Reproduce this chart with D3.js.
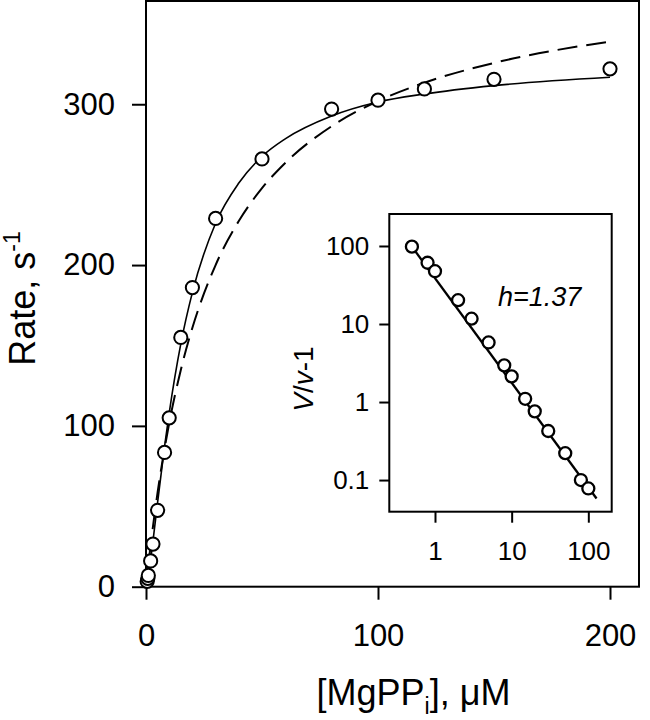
<!DOCTYPE html>
<html>
<head>
<meta charset="utf-8">
<script src="https://cdn.jsdelivr.net/npm/d3@7"></script>
<style>
  body { margin: 0; background: #fff; }
  svg { font-family: "Liberation Sans", Arial, sans-serif; }
  .frame { fill: none; stroke: #000; stroke-width: 2; }
  .axis path { display: none; }
  .axis line { stroke: #000; stroke-width: 2; }
  .axis text { fill: #000; }
  .fit { fill: none; stroke: #000; stroke-width: 1.6; }
  .mm { fill: none; stroke: #000; stroke-width: 2; stroke-dasharray: 20,9; }
  .dot { fill: #fff; stroke: #000; stroke-width: 2; }
</style>
</head>
<body>
<svg id="chart" width="650" height="720"></svg>
<script>
// main panel: rate vs [MgPPi]
var concs = [0.5, 0.8, 1, 2, 3, 5, 8, 10, 15, 20, 30, 50, 80, 100, 120, 150, 200];
var rates = [3.3, 5.2, 7, 16, 26.5, 47.5, 83.5, 105, 155, 186, 229, 266, 297, 302.5, 309.5, 315.5, 322];

// solid curve (Hill fit)
var hillX = [0, 1, 2, 3, 5, 8, 10, 15, 20, 30, 40, 50, 60, 80, 100, 120, 150, 200];
var hillY = [0, 6.7, 16.9, 28.3, 52.4, 87.2, 108, 151, 183, 226, 251, 267.6, 278.5, 292.7, 301.4, 306.4, 311.6, 316.8];

// dashed curve
var mmX = [0, 2, 5, 10, 15, 20, 30, 40, 50, 60, 80, 100, 120, 150, 200];
var mmY = [0, 25.8, 58.6, 101.7, 134.8, 161, 200, 227.4, 247.8, 263.5, 286.3, 302, 313.4, 325.7, 339];

// inset: V/v-1 vs [MgPPi], log-log
var insetX = [0.5, 0.8, 1, 2, 3, 5, 8, 10, 15, 20, 30, 50, 80, 100];
var insetY = [98, 61, 47.5, 20.2, 11.7, 5.8, 2.95, 2.13, 1.1, 0.76, 0.425, 0.221, 0.1, 0.078];
var insetLineX = [0.5, 128];
var insetLineY = [98, 0.058];

var xTicks = [0, 100, 200];
var yTicks = [0, 100, 200, 300];
var insetXTicks = [1, 10, 100];
var insetXLabels = ["1", "10", "100"];
var insetYTicks = [0.1, 1, 10, 100];
var insetYLabels = ["0.1", "1", "10", "100"];

var svg = d3.select("#chart");

var x = d3.scaleLinear().domain([0, 212.5]).range([146, 639]),
    y = d3.scaleLinear().domain([0, 364.2]).range([586.7, 1]);

svg.append("rect")
    .attr("class", "frame")
    .attr("x", x.range()[0])
    .attr("y", y.range()[1])
    .attr("width", x.range()[1] - x.range()[0])
    .attr("height", y.range()[0] - y.range()[1]);

svg.append("g")
    .attr("class", "axis")
    .attr("transform", "translate(0," + y(0) + ")")
    .call(d3.axisBottom(x).tickValues(xTicks).tickSize(13).tickPadding(24).tickSizeOuter(0))
    .selectAll("text").attr("font-size", 31);

svg.append("g")
    .attr("class", "axis")
    .attr("transform", "translate(" + x(0) + ",0)")
    .call(d3.axisLeft(y).tickValues(yTicks).tickSize(14).tickPadding(17).tickSizeOuter(0))
    .selectAll("text").attr("font-size", 31);

var line = d3.line()
    .x(function (d) { return x(d[0]); })
    .y(function (d) { return y(d[1]); })
    .curve(d3.curveMonotoneX);

svg.append("path")
    .attr("class", "mm")
    .attr("d", line(d3.zip(mmX, mmY)));

svg.append("path")
    .attr("class", "fit")
    .attr("d", line(d3.zip(hillX, hillY)));

svg.append("g").selectAll("circle")
    .data(d3.zip(concs, rates))
    .enter().append("circle")
    .attr("class", "dot")
    .attr("cx", function (d) { return x(d[0]); })
    .attr("cy", function (d) { return y(d[1]); })
    .attr("r", 6.6);

// axis titles
var yt = svg.append("text")
    .attr("transform", "translate(35,298.5) rotate(-90)")
    .attr("text-anchor", "middle")
    .attr("font-size", 36);
yt.append("tspan").text("Rate, s");
yt.append("tspan").attr("font-size", 23).attr("dy", -15).text("-1");

var xt = svg.append("text")
    .attr("x", 413.5)
    .attr("y", 705)
    .attr("text-anchor", "middle")
    .attr("font-size", 36);
xt.append("tspan").text("[MgPP");
xt.append("tspan").attr("font-size", 23).attr("dy", 9).text("i");
xt.append("tspan").attr("dy", -9).text("], \u03bcM");

// inset
var ix = d3.scaleLog().domain([0.2535, 201.8]).range([389.3, 611.7]),
    iy = d3.scaleLog().domain([0.0393, 257]).range([511.7, 214]);

var inset = svg.append("g");

inset.append("rect")
    .attr("class", "frame")
    .style("fill", "#fff")
    .attr("x", ix.range()[0])
    .attr("y", iy.range()[1])
    .attr("width", ix.range()[1] - ix.range()[0])
    .attr("height", iy.range()[0] - iy.range()[1]);

inset.append("g")
    .attr("class", "axis")
    .attr("transform", "translate(0," + iy.range()[0] + ")")
    .call(d3.axisBottom(ix).tickValues(insetXTicks).tickSize(11).tickPadding(19)
        .tickFormat(function (d, i) { return insetXLabels[i]; }))
    .selectAll("text").attr("font-size", 26);

inset.append("g")
    .attr("class", "axis")
    .attr("transform", "translate(" + ix.range()[0] + ",0)")
    .call(d3.axisLeft(iy).tickValues(insetYTicks).tickSize(10).tickPadding(10)
        .tickFormat(function (d, i) { return insetYLabels[i]; }))
    .selectAll("text").attr("font-size", 26);

inset.append("path")
    .attr("fill", "none")
    .attr("stroke", "#000")
    .attr("stroke-width", 2.3)
    .attr("d", d3.line()
        .x(function (d) { return ix(d[0]); })
        .y(function (d) { return iy(d[1]); })(d3.zip(insetLineX, insetLineY)));

inset.append("g").selectAll("circle")
    .data(d3.zip(insetX, insetY))
    .enter().append("circle")
    .attr("class", "dot")
    .style("stroke-width", 2.3)
    .attr("cx", function (d) { return ix(d[0]); })
    .attr("cy", function (d) { return iy(d[1]); })
    .attr("r", 6);

var it = inset.append("text")
    .attr("transform", "translate(313,379) rotate(-90)")
    .attr("text-anchor", "middle")
    .attr("font-size", 28);
it.append("tspan").attr("font-style", "italic").text("V");
it.append("tspan").text("/");
it.append("tspan").attr("font-style", "italic").text("v");
it.append("tspan").text("-1");

inset.append("text")
    .attr("x", 498)
    .attr("y", 306)
    .attr("font-size", 27)
    .attr("font-style", "italic")
    .text("h=1.37");
</script>
</body>
</html>
